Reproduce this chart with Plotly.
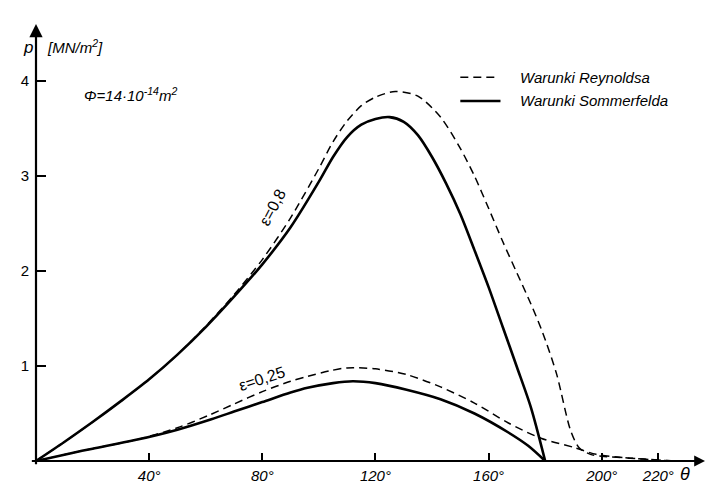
import plotly.graph_objects as go

# ---- data (theta in degrees, p in MN/m^2) ----
theta_som_08 = [0, 10, 20, 30, 40, 50, 60, 70, 80, 90, 100, 105, 110, 115, 120, 125, 130, 135, 140, 145, 150, 155, 160, 165, 170, 175, 180]
p_som_08 = [0, 0.20, 0.41, 0.63, 0.86, 1.12, 1.41, 1.73, 2.07, 2.46, 2.94, 3.20, 3.41, 3.54, 3.60, 3.62, 3.57, 3.43, 3.20, 2.92, 2.60, 2.22, 1.83, 1.41, 0.99, 0.56, 0]

theta_rey_08 = [0, 10, 20, 30, 40, 50, 60, 70, 80, 90, 100, 105, 110, 115, 120, 127, 135, 143, 150, 155, 160, 165, 170, 175, 179, 184, 189, 192, 196, 200, 210, 220, 226]
p_rey_08 = [0, 0.20, 0.41, 0.63, 0.86, 1.12, 1.42, 1.75, 2.12, 2.56, 3.08, 3.36, 3.58, 3.74, 3.83, 3.89, 3.84, 3.62, 3.29, 3.00, 2.66, 2.31, 1.98, 1.65, 1.36, 0.92, 0.32, 0.14, 0.07, 0.05, 0.03, 0.01, 0]

theta_som_025 = [0, 12, 20, 35, 50, 62, 70, 80, 90, 96, 105, 112, 120, 131, 143, 155, 167, 174, 180]
p_som_025 = [0, 0.08, 0.13, 0.22, 0.33, 0.44, 0.52, 0.62, 0.72, 0.77, 0.82, 0.84, 0.82, 0.75, 0.65, 0.50, 0.30, 0.16, 0]

theta_rey_025 = [0, 12, 20, 35, 50, 61, 70, 80, 90, 96, 104, 110, 120, 131, 143, 155, 167, 178.5, 190.5, 198, 210, 220, 226]
p_rey_025 = [0, 0.08, 0.13, 0.22, 0.35, 0.48, 0.60, 0.73, 0.84, 0.89, 0.95, 0.98, 0.97, 0.91, 0.78, 0.61, 0.40, 0.24, 0.14, 0.07, 0.03, 0.01, 0]

x_tick_vals = [40, 80, 120, 160, 200, 220]
x_tick_text = ["40°", "80°", "120°", "160°", "200°", "220°"]
y_tick_vals = [1, 2, 3, 4]
y_tick_text = ["1", "2", "3", "4"]

legend_names = ["Warunki Reynoldsa", "Warunki Sommerfelda"]

FONT = "Liberation Sans, Arial, sans-serif"
DASH = "8px,5px"

fig = go.Figure()
for th, p, dash, w in [
    (theta_rey_08, p_rey_08, DASH, 1.5),
    (theta_som_08, p_som_08, "solid", 2.6),
    (theta_rey_025, p_rey_025, DASH, 1.5),
    (theta_som_025, p_som_025, "solid", 2.6),
]:
    fig.add_trace(go.Scatter(x=th, y=p, mode="lines",
                             line=dict(color="black", width=w, dash=dash, shape="spline", smoothing=0.8),
                             showlegend=False, hoverinfo="skip"))

XMAX = 236.5
YMAX = 4.6

fig.update_layout(
    width=719, height=491,
    margin=dict(l=28, r=22, t=16, b=38),
    paper_bgcolor="white", plot_bgcolor="white",
    font=dict(family=FONT, color="black", size=14),
    xaxis=dict(range=[0, XMAX], showgrid=False, zeroline=False, showline=False,
               tickvals=x_tick_vals, ticktext=x_tick_text, ticks="inside", ticklen=8,
               tickwidth=1.5, tickcolor="black", ticklabelstandoff=4,
               tickfont=dict(family=FONT, size=15, style="italic")),
    yaxis=dict(range=[0, YMAX], showgrid=False, zeroline=False, showline=False,
               tickvals=y_tick_vals, ticktext=y_tick_text, ticks="inside", ticklen=10,
               tickwidth=1.5, tickcolor="black", ticklabelstandoff=6,
               tickfont=dict(family=FONT, size=15)),
)

# axes with arrows
fig.add_annotation(x=XMAX, y=0, ax=-2, ay=0, xref="x", yref="y", axref="x", ayref="y",
                   showarrow=True, arrowhead=2, arrowsize=1.2, arrowwidth=1.8, arrowcolor="black", text="")
fig.add_annotation(x=0, y=YMAX, ax=0, ay=-0.05, xref="x", yref="y", axref="x", ayref="y",
                   showarrow=True, arrowhead=2, arrowsize=1.2, arrowwidth=2.2, arrowcolor="black", text="")

# axis labels (paper coordinates so they are not hidden outside the data range)
PW, PH = 669.0, 437.0
def px(xp):
    return (xp - 28) / PW
def py(yp):
    return (453 - yp) / PH

fig.add_annotation(x=px(13), y=py(28), xref="paper", yref="paper", text="<i>p</i>", showarrow=False,
                   font=dict(size=17))
fig.add_annotation(x=px(37), y=py(27), xref="paper", yref="paper", text="<i>[MN/m<sup>2</sup>]</i>",
                   showarrow=False, xanchor="left", font=dict(size=15))
fig.add_annotation(x=px(684), y=py(478), xref="paper", yref="paper", text="<i>θ</i>", showarrow=False,
                   font=dict(size=18))
fig.add_annotation(x=px(74), y=py(75), xref="paper", yref="paper",
                   text="<i>Φ=14·10<sup>-14</sup>m<sup>2</sup></i>",
                   showarrow=False, xanchor="left", font=dict(size=15))

# legend (drawn manually)
fig.add_shape(type="line", x0=150, x1=163.5, y0=4.04, y1=4.04, xref="x", yref="y",
              line=dict(color="black", width=1.5, dash=DASH))
fig.add_shape(type="line", x0=150, x1=164.2, y0=3.79, y1=3.79, xref="x", yref="y",
              line=dict(color="black", width=2.6))
fig.add_annotation(x=170.4, y=4.04, xref="x", yref="y", text="<i>" + legend_names[0] + "</i>",
                   showarrow=False, xanchor="left", font=dict(size=15))
fig.add_annotation(x=170.4, y=3.79, xref="x", yref="y", text="<i>" + legend_names[1] + "</i>",
                   showarrow=False, xanchor="left", font=dict(size=15))

# curve labels
fig.add_annotation(x=83.5, y=2.67, xref="x", yref="y", text="ε=0,8", textangle=-62,
                   showarrow=False, font=dict(size=16))
fig.add_annotation(x=80, y=0.87, xref="x", yref="y", text="ε=0,25", textangle=-18,
                   showarrow=False, font=dict(size=16))

fig.write_html("out.html")
